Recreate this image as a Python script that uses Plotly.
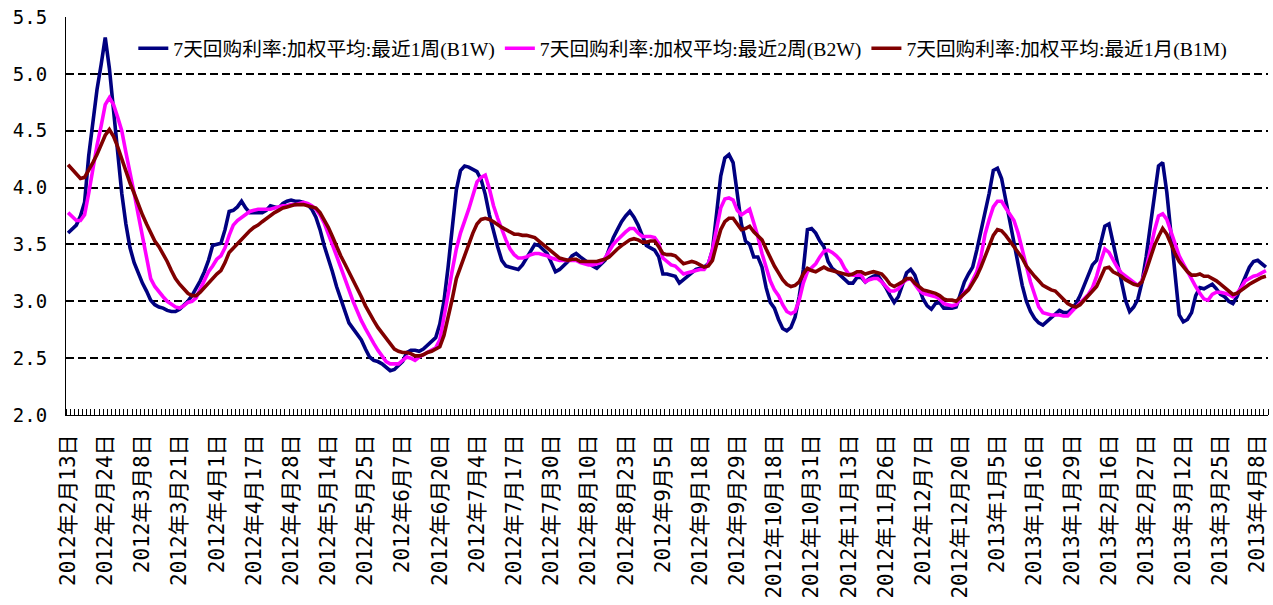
import plotly.graph_objects as go

tick_labels = [
    "2012年2月13日", "2012年2月24日", "2012年3月8日", "2012年3月21日", "2012年4月1日",
    "2012年4月17日", "2012年4月28日", "2012年5月14日", "2012年5月25日", "2012年6月7日",
    "2012年6月20日", "2012年7月4日", "2012年7月17日", "2012年7月30日", "2012年8月10日",
    "2012年8月23日", "2012年9月5日", "2012年9月18日", "2012年9月29日", "2012年10月18日",
    "2012年10月31日", "2012年11月13日", "2012年11月26日", "2012年12月7日", "2012年12月20日",
    "2013年1月5日", "2013年1月16日", "2013年1月29日", "2013年2月16日", "2013年2月27日",
    "2013年3月12日", "2013年3月25日", "2013年4月8日",
]
label_step = 9  # trading days between labelled dates

series_names = [
    "7天回购利率:加权平均:最近1周(B1W)",
    "7天回购利率:加权平均:最近2周(B2W)",
    "7天回购利率:加权平均:最近1月(B1M)",
]

b1w = [
    3.60, 3.63, 3.67, 3.75, 3.87, 4.28, 4.60, 4.86, 5.08, 5.32,
    5.05, 4.70, 4.35, 3.95, 3.68, 3.47, 3.34, 3.24, 3.16, 3.09,
    3.01, 2.97, 2.95, 2.94, 2.92, 2.91, 2.91, 2.93, 2.96, 3.00,
    3.05, 3.11, 3.18, 3.26, 3.36, 3.49, 3.50, 3.51, 3.63, 3.79,
    3.80, 3.83, 3.88, 3.82, 3.78, 3.78, 3.78, 3.78, 3.80, 3.84,
    3.83, 3.82, 3.86, 3.88, 3.89, 3.88, 3.88, 3.87, 3.85, 3.81,
    3.74, 3.63, 3.49, 3.38, 3.26, 3.13, 3.02, 2.92, 2.81, 2.76,
    2.71, 2.66, 2.58, 2.51, 2.48, 2.47, 2.45, 2.42, 2.39, 2.40,
    2.43, 2.47, 2.55, 2.57, 2.57, 2.56, 2.58, 2.61, 2.64, 2.68,
    2.80, 3.00, 3.30, 3.66, 3.98, 4.15, 4.19, 4.18, 4.16, 4.14,
    4.07, 3.94, 3.76, 3.61, 3.48, 3.36, 3.31, 3.30, 3.29, 3.28,
    3.32, 3.38, 3.45, 3.50, 3.49, 3.46, 3.42, 3.34, 3.26, 3.28,
    3.31, 3.35, 3.40, 3.42, 3.39, 3.36, 3.33, 3.31, 3.29, 3.32,
    3.36, 3.46, 3.56, 3.63, 3.70, 3.75, 3.79, 3.74, 3.67, 3.58,
    3.49, 3.47, 3.45, 3.39, 3.24, 3.24, 3.23, 3.22, 3.16, 3.19,
    3.23, 3.26, 3.28, 3.29, 3.30, 3.33, 3.45, 3.77, 4.10, 4.26,
    4.29, 4.22, 3.95, 3.68, 3.53, 3.50, 3.39, 3.39, 3.30, 3.12,
    2.99, 2.94, 2.84, 2.76, 2.74, 2.77, 2.86, 3.04, 3.28, 3.63,
    3.64, 3.60, 3.53, 3.48, 3.35, 3.29, 3.26, 3.23, 3.20, 3.16,
    3.16, 3.21, 3.21, 3.17, 3.20, 3.22, 3.23, 3.18, 3.12, 3.05,
    2.99, 3.04, 3.14, 3.25, 3.28, 3.23, 3.12, 3.02, 2.96, 2.93,
    2.98, 2.99, 2.94, 2.94, 2.94, 2.95, 3.05, 3.17, 3.24, 3.30,
    3.45, 3.61, 3.76, 3.95, 4.15, 4.17, 4.08, 3.89, 3.69, 3.50,
    3.30, 3.14, 3.00, 2.91, 2.85, 2.81, 2.79, 2.82, 2.85, 2.88,
    2.92, 2.90, 2.90, 2.93, 2.98, 3.05, 3.14, 3.25, 3.32, 3.36,
    3.50, 3.66, 3.68, 3.50, 3.35, 3.18, 3.01, 2.91, 2.95, 3.02,
    3.17, 3.39, 3.66, 3.95, 4.19, 4.22, 3.96, 3.60, 3.22, 2.88,
    2.82, 2.84, 2.90, 3.05, 3.12, 3.11, 3.13, 3.15, 3.11, 3.06,
    3.04, 3.00, 2.98, 3.04, 3.13, 3.22, 3.30, 3.35, 3.36, 3.33,
    3.30,
]

b2w = [
    3.78, 3.74, 3.71, 3.71, 3.76, 3.95, 4.18, 4.37, 4.54, 4.73,
    4.79, 4.73, 4.62, 4.50, 4.31, 4.14, 3.95, 3.76, 3.57, 3.36,
    3.20, 3.13, 3.08, 3.04, 3.00, 2.97, 2.95, 2.94, 2.96, 2.99,
    3.00, 3.03, 3.11, 3.19, 3.26, 3.31, 3.37, 3.40, 3.47, 3.58,
    3.67, 3.71, 3.74, 3.77, 3.79, 3.80, 3.81, 3.81, 3.81, 3.81,
    3.82, 3.83, 3.84, 3.84, 3.85, 3.85, 3.86, 3.87, 3.86, 3.84,
    3.81, 3.76, 3.69, 3.60, 3.51, 3.40, 3.30, 3.21, 3.10, 3.00,
    2.91, 2.83, 2.76, 2.69, 2.63, 2.57, 2.52, 2.47, 2.45, 2.45,
    2.45, 2.48, 2.51, 2.50, 2.48, 2.51, 2.53, 2.55, 2.57, 2.59,
    2.66, 2.84, 3.06, 3.27, 3.46, 3.60, 3.70, 3.81, 3.93, 4.05,
    4.09, 4.11, 3.99, 3.84, 3.73, 3.63, 3.54, 3.46, 3.41, 3.38,
    3.38, 3.39, 3.41, 3.42, 3.42, 3.41, 3.40, 3.38, 3.37, 3.36,
    3.36, 3.36, 3.36, 3.36, 3.34, 3.33, 3.32, 3.32, 3.33, 3.34,
    3.38, 3.44, 3.50, 3.54, 3.58, 3.61, 3.64, 3.64, 3.60, 3.57,
    3.57, 3.57, 3.56, 3.51, 3.38, 3.35, 3.32, 3.31, 3.27, 3.24,
    3.25, 3.26, 3.27, 3.28, 3.28, 3.33, 3.45, 3.65, 3.82, 3.90,
    3.91, 3.89, 3.80, 3.76, 3.79, 3.81, 3.69, 3.57, 3.42, 3.30,
    3.18, 3.10, 3.05, 2.97, 2.91, 2.89, 2.91, 3.01, 3.16, 3.26,
    3.30, 3.33, 3.39, 3.44, 3.45, 3.43, 3.40, 3.36, 3.29, 3.24,
    3.23, 3.23, 3.23, 3.17, 3.19, 3.20, 3.20, 3.17, 3.13, 3.09,
    3.09, 3.11, 3.16, 3.19, 3.20, 3.15, 3.10, 3.07, 3.06, 3.05,
    3.04, 3.02, 2.98, 2.97, 2.96, 2.97, 3.02, 3.08, 3.11, 3.18,
    3.26, 3.39, 3.59, 3.72, 3.83, 3.88, 3.88, 3.82, 3.76, 3.71,
    3.60, 3.44, 3.31, 3.17, 3.05, 2.95, 2.90, 2.89, 2.88, 2.88,
    2.88, 2.87, 2.87, 2.91, 2.95, 2.99, 3.02, 3.06, 3.12, 3.22,
    3.35, 3.46, 3.43, 3.36, 3.30, 3.25, 3.22, 3.19, 3.16, 3.14,
    3.18, 3.29, 3.45, 3.62, 3.75, 3.77, 3.72, 3.61, 3.52, 3.40,
    3.33, 3.26, 3.19, 3.13, 3.07, 3.02, 3.01, 3.06, 3.08, 3.08,
    3.07, 3.06, 3.04, 3.07, 3.12, 3.18, 3.20, 3.22, 3.23, 3.25,
    3.27,
]

b1m = [
    4.20, 4.16, 4.11, 4.08, 4.09, 4.15, 4.22, 4.29, 4.37, 4.46,
    4.51, 4.45, 4.36, 4.25, 4.14, 4.04, 3.95, 3.85, 3.76, 3.68,
    3.61, 3.53, 3.48, 3.42, 3.35, 3.27, 3.20, 3.15, 3.11, 3.07,
    3.05, 3.05, 3.08, 3.12, 3.17, 3.21, 3.24, 3.27, 3.34, 3.43,
    3.47, 3.51, 3.54, 3.58, 3.62, 3.65, 3.67, 3.70, 3.73, 3.76,
    3.78, 3.80, 3.82, 3.83, 3.84, 3.85, 3.85, 3.85, 3.84, 3.83,
    3.82, 3.78, 3.72, 3.65, 3.57, 3.48, 3.40, 3.33, 3.26, 3.18,
    3.12, 3.04, 2.96, 2.89, 2.83, 2.77, 2.72, 2.67, 2.62, 2.58,
    2.56, 2.55, 2.55, 2.54, 2.52, 2.52, 2.53, 2.55, 2.56, 2.58,
    2.60, 2.70, 2.85, 3.02, 3.20, 3.30, 3.41, 3.51, 3.60, 3.68,
    3.72, 3.73, 3.72, 3.70, 3.67, 3.65, 3.63, 3.61, 3.59, 3.59,
    3.58, 3.58, 3.57, 3.56, 3.53, 3.50, 3.47, 3.44, 3.41, 3.38,
    3.37, 3.36, 3.37, 3.37, 3.35, 3.35, 3.35, 3.35, 3.35, 3.36,
    3.37, 3.39, 3.43, 3.46, 3.49, 3.52, 3.54, 3.55, 3.54, 3.52,
    3.52, 3.53, 3.53, 3.48, 3.42, 3.41, 3.41, 3.40, 3.36, 3.33,
    3.34, 3.35, 3.34, 3.32, 3.30, 3.31, 3.36, 3.50, 3.63, 3.70,
    3.73, 3.73, 3.68, 3.63, 3.64, 3.66, 3.61, 3.57, 3.54, 3.46,
    3.38, 3.31, 3.25, 3.19, 3.15, 3.13, 3.14, 3.17, 3.24, 3.29,
    3.27, 3.26, 3.28, 3.30, 3.28, 3.27, 3.26, 3.25, 3.24, 3.23,
    3.24, 3.26, 3.26, 3.24, 3.25, 3.26, 3.25, 3.24, 3.20, 3.15,
    3.13, 3.15, 3.17, 3.20, 3.20, 3.16, 3.13, 3.10, 3.09, 3.08,
    3.07, 3.05, 3.02, 3.01, 3.01, 3.00, 3.03, 3.07, 3.10, 3.16,
    3.22, 3.30, 3.39, 3.49, 3.58, 3.63, 3.62, 3.58, 3.53, 3.48,
    3.43, 3.38, 3.31, 3.26, 3.22, 3.18, 3.14, 3.12, 3.10, 3.09,
    3.05, 3.01, 2.98, 2.96, 2.95, 2.97, 3.01, 3.05, 3.09, 3.13,
    3.21, 3.29, 3.30, 3.26, 3.24, 3.22, 3.19, 3.17, 3.15, 3.14,
    3.17, 3.27, 3.39, 3.49, 3.57, 3.64, 3.59, 3.50, 3.42, 3.35,
    3.30, 3.26, 3.23, 3.23, 3.24, 3.22, 3.22, 3.20, 3.18, 3.15,
    3.12, 3.09, 3.06, 3.07, 3.10, 3.13, 3.15, 3.17, 3.19, 3.21,
    3.22,
]

colors = ["#000080", "#FF00FF", "#800000"]

day_index = list(range(len(b1w)))
tick_positions = [i * label_step for i in range(len(tick_labels))]

fig = go.Figure()
for name, vals, col in zip(series_names, [b1w, b2w, b1m], colors):
    fig.add_trace(go.Scatter(
        x=day_index, y=vals, mode="lines", name=name,
        line=dict(color=col, width=3.6),
    ))

# white panel behind the legend (covers the 5.0 gridline like the original)
fig.add_shape(type="rect", xref="paper", yref="y", x0=0.06, x1=0.984, y0=4.9, y1=5.22,
              fillcolor="white", line=dict(width=0), layer="between")

fig.update_layout(
    width=1273, height=605,
    margin=dict(l=66, r=5, t=17, b=190),
    plot_bgcolor="white", paper_bgcolor="white",
    showlegend=True,
    legend=dict(
        orientation="h", x=0.056, y=0.97, xanchor="left", yanchor="top",
        bgcolor="rgba(0,0,0,0)",
        font=dict(family="Liberation Serif, Noto Sans CJK SC", size=19.7, color="black"),
        itemwidth=30,
    ),
    xaxis=dict(
        range=[-0.5, len(b1w) - 0.5],
        tickmode="array", tickvals=tick_positions, ticktext=tick_labels,
        tickangle=-90, ticks="", showgrid=False, zeroline=False,
        showline=True, linecolor="black", linewidth=1,
        tickfont=dict(family="DejaVu Sans Mono, Noto Sans CJK JP", size=21, color="black"),
        ticklabelstandoff=10,
        automargin=False,
        minor=dict(ticks="inside", ticklen=6, tickwidth=1, tickcolor="black",
                   dtick=1, tick0=0.5, showgrid=False),
    ),
    yaxis=dict(
        range=[2.0, 5.5], tickmode="linear", tick0=2.0, dtick=0.5,
        tickformat=".1f", ticks="", zeroline=False,
        showline=True, linecolor="black", linewidth=1,
        showgrid=True, gridcolor="black", gridwidth=2, griddash="8px,4px",
        tickfont=dict(family="DejaVu Sans Mono", size=19, color="black"),
        ticklabelstandoff=14,
        automargin=False,
    ),
)

fig.write_html("out.html", config={"displayModeBar": False},
               post_script="document.body.style.margin='0';")
